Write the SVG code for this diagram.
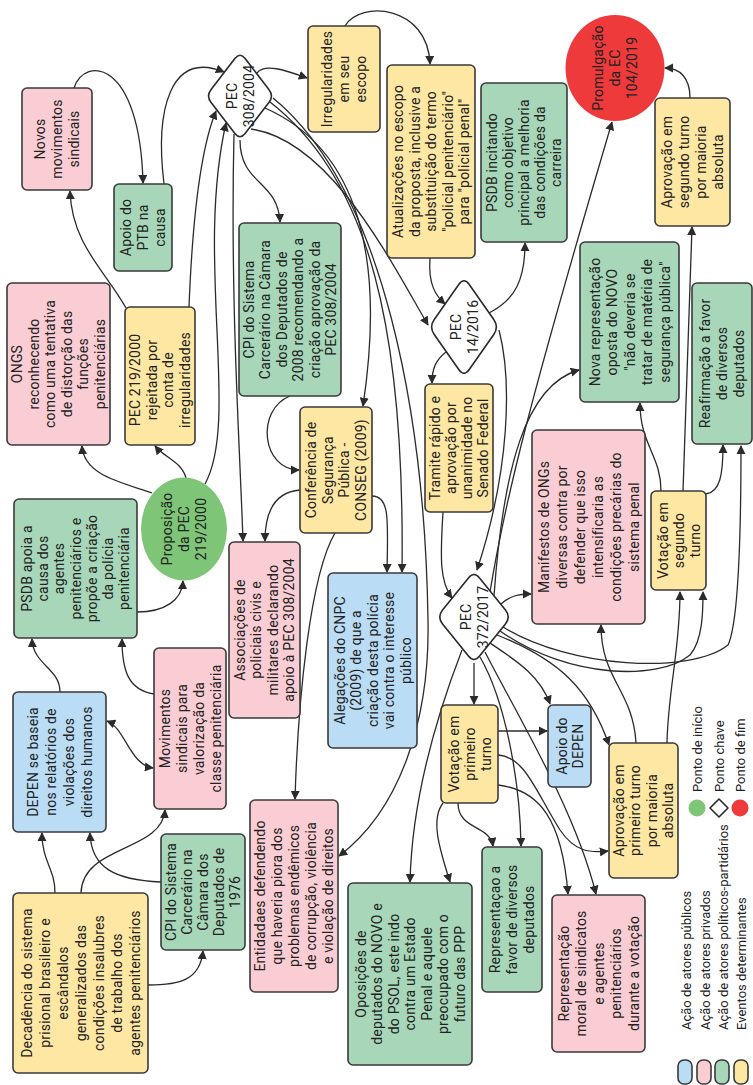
<svg xmlns="http://www.w3.org/2000/svg" width="753" height="1085" viewBox="0 0 753 1085">
<style>
.pk{fill:#f9cdd3;stroke:#3a3a3a;stroke-width:1.6}
.gr{fill:#a7d7b8;stroke:#3a3a3a;stroke-width:1.6}
.ye{fill:#fee7a3;stroke:#3a3a3a;stroke-width:1.6}
.bl{fill:#badcf4;stroke:#3a3a3a;stroke-width:1.6}
.dm{fill:#ffffff;stroke:#2a2a2a;stroke-width:1.6}
.t{font-family:Roboto,'Liberation Sans',sans-serif;font-size:14px;fill:#222;text-anchor:middle;letter-spacing:0.2px}
.lg{font-family:Roboto,'Liberation Sans',sans-serif;font-size:13px;fill:#222;text-anchor:start}
.e{fill:none;stroke:#2b2b2b;stroke-width:1.3;marker-end:url(#arr)}
</style>
<defs>
<marker id="arr" viewBox="0 0 10 10" refX="9" refY="5" markerWidth="7" markerHeight="7" orient="auto-start-reverse" markerUnits="strokeWidth">
<path d="M0,0 L10,5 L0,10 z" fill="#2b2b2b"/>
</marker>
</defs>
<rect width="753" height="1085" fill="#ffffff"/>

<g id="connectors">
<path class="e" d="M74 88 C85 55 140 60 143 183"/>
<path class="e" d="M164 184 C155 110 170 50 224 72"/>
<path class="e" d="M126 308 C105 270 72 245 70 191"/>
<path class="e" d="M189 307 C192 230 200 150 216 111"/>
<path class="e" d="M205 484 C240 420 195 260 226 123"/>
<path class="e" d="M234 134 C230 300 240 450 243 541"/>
<path class="e" d="M240 140 C240 185 278 180 280 222"/>
<path class="e" d="M257 73 C265 62 290 72 307 78"/>
<path class="e" d="M345 26 C360 0 428 5 430 64"/>
<path class="e" d="M430 258 C428 285 436 296 445 304"/>
<path class="e" d="M251 129 C330 140 390 260 428 325"/>
<path class="e" d="M265 108 C360 150 385 260 363 406"/>
<path class="e" d="M270 102 C370 180 405 330 402 572"/>
<path class="e" d="M273 98 C385 190 425 420 428 620 C430 720 400 810 339 856"/>
<path class="e" d="M489 313 C515 300 525 280 525 243"/>
<path class="e" d="M446 352 C436 360 432 368 432 383"/>
<path class="e" d="M499 330 C512 380 510 470 477 570"/>
<path class="e" d="M443 512 C440 560 440 582 452 598"/>
<path class="e" d="M290 396 C255 410 262 470 299 470"/>
<path class="e" d="M300 490 C275 492 265 512 265 541"/>
<path class="e" d="M372 496 C390 496 388 520 387 572"/>
<path class="e" d="M335 533 C310 575 298 700 295 799"/>
<path class="e" d="M186 478 C182 462 165 458 155 446"/>
<path class="e" d="M152 493 C120 482 84 475 82 446"/>
<path class="e" d="M137 612 C165 612 182 600 183 581"/>
<path class="e" d="M60 692 C60 668 33 665 32 639"/>
<path class="e" d="M154 694 C128 690 122 670 122 639"/>
<path class="e" d="M107 721 C125 728 130 765 153 768" marker-start="url(#arr)"/>
<path class="e" d="M55 893 C55 868 42 862 42 833"/>
<path class="e" d="M81 893 C82 845 162 852 165 810"/>
<path class="e" d="M161 882 C115 880 91 868 90 833"/>
<path class="e" d="M148 985 C180 985 200 980 203 951"/>
<path class="e" d="M490 592 C505 500 530 400 612 122"/>
<path class="e" d="M494 596 C503 470 525 385 579 370"/>
<path class="e" d="M501 604 C510 596 518 594 531 594"/>
<path class="e" d="M503 627 C570 668 690 675 728 645 C740 620 741 500 741 446"/>
<path class="e" d="M500 631 C570 680 660 680 690 655 C703 640 703 610 703 592"/>
<path class="e" d="M667 743 C668 690 680 650 680 592"/>
<path class="e" d="M636 743 C633 690 601 680 601 625"/>
<path class="e" d="M661 491 C661 455 640 445 640 403"/>
<path class="e" d="M683 491 L692 227"/>
<path class="e" d="M706 494 C720 492 723 475 723 445"/>
<path class="e" d="M690 98 C690 78 680 68 665 68"/>
<path class="e" d="M490 643 C515 660 540 675 550 704"/>
<path class="e" d="M497 635 C560 660 590 690 609 745"/>
<path class="e" d="M474 663 L474 704"/>
<path class="e" d="M498 731 L547 731"/>
<path class="e" d="M498 755 C525 757 535 790 560 830 C575 852 590 853 608 851"/>
<path class="e" d="M498 785 C540 790 562 820 568 894"/>
<path class="e" d="M458 803 C458 830 490 825 493 846"/>
<path class="e" d="M443 803 C430 820 440 850 450 882"/>
<path class="e" d="M480 657 C505 700 520 780 521 846"/>
<path class="e" d="M485 652 C520 720 575 810 596 894"/>
<path class="e" d="M462 650 C435 720 412 800 410 882"/>
</g>

<g id="n-novos"><rect class="pk" x="22" y="88" width="70" height="102" rx="5"/>
<text class="t" transform="translate(57,139) rotate(-90)"><tspan x="0" y="-12">Novos</tspan><tspan x="0" y="5">movimentos</tspan><tspan x="0" y="22">sindicais</tspan></text></g>

<g id="n-ptb"><rect class="gr" x="114" y="184" width="58" height="87" rx="5"/>
<text class="t" transform="translate(143,227.5) rotate(-90)"><tspan x="0" y="-12">Apoio do</tspan><tspan x="0" y="5">PTB na</tspan><tspan x="0" y="22">causa</tspan></text></g>

<g id="n-pec308"><path class="dm" d="M211.1 89.4 L234.9 58.6 Q240 52 245.1 58.6 L268.9 89.4 Q274 96 268.9 102.6 L245.1 133.4 Q240 140 234.9 133.4 L211.1 102.6 Q206 96 211.1 89.4 Z"/>
<text class="t" transform="translate(240,96) rotate(-90)"><tspan x="0" y="-3.5">PEC</tspan><tspan x="0" y="13.5">308/2004</tspan></text></g>

<g id="n-ongs"><rect class="pk" x="7" y="283" width="103" height="162" rx="5"/>
<text class="t" transform="translate(58.5,364) rotate(-90)"><tspan x="0" y="-36.25">ONGS</tspan><tspan x="0" y="-19.75">reconhecendo</tspan><tspan x="0" y="-3.25">como uma tentativa</tspan><tspan x="0" y="13.25">de distorção das</tspan><tspan x="0" y="29.75">funções</tspan><tspan x="0" y="46.25">penitenciárias</tspan></text></g>

<g id="n-pec219rej"><rect class="ye" x="125" y="307" width="70" height="138" rx="5"/>
<text class="t" transform="translate(160,380) rotate(-90)"><tspan x="0" y="-19.75">PEC 219/2000</tspan><tspan x="0" y="-3.25">rejeitada por</tspan><tspan x="0" y="13.25">conta de</tspan><tspan x="0" y="29.75">irregularidades</tspan></text></g>

<g id="n-cpi2008"><rect class="gr" x="239" y="223" width="102" height="173" rx="5"/>
<text class="t" transform="translate(290,309.5) rotate(-90)"><tspan x="0" y="-36.25">CPI do Sistema</tspan><tspan x="0" y="-19.75">Carcerário na Câmara</tspan><tspan x="0" y="-3.25">dos Deputados de</tspan><tspan x="0" y="13.25">2008 recomendando a</tspan><tspan x="0" y="29.75">criação aprovação da</tspan><tspan x="0" y="46.25">PEC 308/2004</tspan></text></g>

<g id="n-irreg"><rect class="ye" x="308" y="26" width="72" height="106" rx="5"/>
<text class="t" transform="translate(344,79) rotate(-90)"><tspan x="0" y="-12">Irregularidades</tspan><tspan x="0" y="5">em seu</tspan><tspan x="0" y="22">escopo</tspan></text></g>

<g id="n-atualiz"><rect class="ye" x="387" y="65" width="88" height="193" rx="5"/>
<text class="t" transform="translate(431,161.5) rotate(-90)"><tspan x="0" y="-28">Atualizações no escopo</tspan><tspan x="0" y="-11.5">da proposta, inclusive a</tspan><tspan x="0" y="5">substituição do termo</tspan><tspan x="0" y="21.5">&quot;policial penitenciário&quot;</tspan><tspan x="0" y="38">para &quot;policial penal&quot;</tspan></text></g>

<g id="n-psdbinc"><rect class="gr" x="481" y="83" width="86" height="159" rx="5"/>
<text class="t" transform="translate(524,162.5) rotate(-90)"><tspan x="0" y="-27">PSDB incitando</tspan><tspan x="0" y="-11">como objetivo</tspan><tspan x="0" y="5">principal a melhoria</tspan><tspan x="0" y="21">das condições da</tspan><tspan x="0" y="37">carreira</tspan></text></g>

<g id="n-promulg"><ellipse cx="615" cy="68" rx="49.5" ry="53" fill="#ee3a3a"/>
<text class="t" transform="translate(615,68) rotate(-90)"><tspan x="0" y="-12">Promulgação</tspan><tspan x="0" y="5">da EC</tspan><tspan x="0" y="22">104/2019</tspan></text></g>

<g id="n-aprov2"><rect class="ye" x="655" y="98" width="75" height="128" rx="5"/>
<text class="t" transform="translate(692.5,162) rotate(-90)"><tspan x="0" y="-20.5">Aprovação em</tspan><tspan x="0" y="-3.5">segundo turno</tspan><tspan x="0" y="13.5">por maioria</tspan><tspan x="0" y="30.5">absoluta</tspan></text></g>

<g id="n-pec14"><path class="dm" d="M434.25 319.5 L458.75 284.5 Q464 277 469.25 284.5 L493.75 319.5 Q499 327 493.75 334.5 L469.25 369.5 Q464 377 458.75 369.5 L434.25 334.5 Q429 327 434.25 319.5 Z"/>
<text class="t" transform="translate(464,327) rotate(-90)"><tspan x="0" y="-3.5">PEC</tspan><tspan x="0" y="13.5">14/2016</tspan></text></g>

<g id="n-nova"><rect class="gr" x="580" y="242" width="99" height="160" rx="5"/>
<text class="t" transform="translate(629.5,322) rotate(-90)"><tspan x="0" y="-30">Nova representação</tspan><tspan x="0" y="-12.5">oposta do NOVO</tspan><tspan x="0" y="5">&quot;não deveria se</tspan><tspan x="0" y="22.5">tratar de matéria de</tspan><tspan x="0" y="40">segurança pública&quot;</tspan></text></g>

<g id="n-reafirm"><rect class="gr" x="692" y="283" width="60" height="161" rx="5"/>
<text class="t" transform="translate(722,363.5) rotate(-90)"><tspan x="0" y="-12">Reafirmação a favor</tspan><tspan x="0" y="5">de diversos</tspan><tspan x="0" y="22">deputados</tspan></text></g>

<g id="n-tramite"><rect class="ye" x="425" y="384" width="68" height="128" rx="5"/>
<text class="t" transform="translate(459,448) rotate(-90)"><tspan x="0" y="-19">Tramite rápido e</tspan><tspan x="0" y="-3">aprovação por</tspan><tspan x="0" y="13">unanimidade no</tspan><tspan x="0" y="29">Senado Federal</tspan></text></g>

<g id="n-conseg"><rect class="ye" x="300" y="407" width="72" height="126" rx="5"/>
<text class="t" transform="translate(336,470) rotate(-90)"><tspan x="0" y="-19.75">Conferência de</tspan><tspan x="0" y="-3.25">Segurança</tspan><tspan x="0" y="13.25">Pública -</tspan><tspan x="0" y="29.75">CONSEG (2009)</tspan></text></g>

<g id="n-assoc"><rect class="pk" x="229" y="542" width="71" height="176" rx="5"/>
<text class="t" transform="translate(264.5,630) rotate(-90)"><tspan x="0" y="-19.75">Associações de</tspan><tspan x="0" y="-3.25">policiais civis e</tspan><tspan x="0" y="13.25">militares declarando</tspan><tspan x="0" y="29.75">apoio à PEC 308/2004</tspan></text></g>

<g id="n-cnpc"><rect class="bl" x="328" y="573" width="89" height="175" rx="5"/>
<text class="t" transform="translate(372.5,660.5) rotate(-90)"><tspan x="0" y="-28">Alegações do CNPC</tspan><tspan x="0" y="-11.5">(2009) de que a</tspan><tspan x="0" y="5">criação desta polícia</tspan><tspan x="0" y="21.5">vai contra o interesse</tspan><tspan x="0" y="38">público</tspan></text></g>

<g id="n-pec372"><path class="dm" d="M442.55 610.1 L468.45 577.9 Q474 571 479.55 577.9 L505.45 610.1 Q511 617 505.45 623.9 L479.55 656.1 Q474 663 468.45 656.1 L442.55 623.9 Q437 617 442.55 610.1 Z"/>
<text class="t" transform="translate(474,617) rotate(-90)"><tspan x="0" y="-3.5">PEC</tspan><tspan x="0" y="13.5">372/2017</tspan></text></g>

<g id="n-manif"><rect class="pk" x="532" y="430" width="113" height="194" rx="5"/>
<text class="t" transform="translate(588.5,527) rotate(-90)"><tspan x="0" y="-40">Manifestos de ONGs</tspan><tspan x="0" y="-22">diversas contra por</tspan><tspan x="0" y="-4">defender que isso</tspan><tspan x="0" y="14">intensificaria as</tspan><tspan x="0" y="32">condições precárias do</tspan><tspan x="0" y="50">sistema penal</tspan></text></g>

<g id="n-vot2"><rect class="ye" x="651" y="491" width="55" height="99" rx="5"/>
<text class="t" transform="translate(678.5,540.5) rotate(-90)"><tspan x="0" y="-11">Votação em</tspan><tspan x="0" y="5">segundo</tspan><tspan x="0" y="21">turno</tspan></text></g>

<g id="n-psdbapoia"><rect class="gr" x="14" y="499" width="123" height="139" rx="5"/>
<text class="t" transform="translate(75.5,568.5) rotate(-90)"><tspan x="0" y="-43.9">PSDB apoia a</tspan><tspan x="0" y="-27.6">causa dos</tspan><tspan x="0" y="-11.3">agentes</tspan><tspan x="0" y="5">penitenciários e</tspan><tspan x="0" y="21.3">propõe a criação</tspan><tspan x="0" y="37.6">da polícia</tspan><tspan x="0" y="53.9">penitenciária</tspan></text></g>

<g id="n-propos"><ellipse cx="184" cy="529" rx="43" ry="51.5" fill="#7ec577"/>
<text class="t" transform="translate(184,529) rotate(-90)"><tspan x="0" y="-12">Proposição</tspan><tspan x="0" y="5">da PEC</tspan><tspan x="0" y="22">219/2000</tspan></text></g>

<g id="n-movim"><rect class="pk" x="154" y="648" width="72" height="161" rx="5"/>
<text class="t" transform="translate(190,728.5) rotate(-90)"><tspan x="0" y="-20.5">Movimentos</tspan><tspan x="0" y="-3.5">sindicais para</tspan><tspan x="0" y="13.5">valorização da</tspan><tspan x="0" y="30.5">classe penitenciária</tspan></text></g>

<g id="n-depen"><rect class="bl" x="13" y="692" width="93" height="140" rx="5"/>
<text class="t" transform="translate(59.5,762) rotate(-90)"><tspan x="0" y="-22">DEPEN se baseia</tspan><tspan x="0" y="-4">nos relatórios de</tspan><tspan x="0" y="14">violações dos</tspan><tspan x="0" y="32">direitos humanos</tspan></text></g>

<g id="n-decad"><rect class="ye" x="13" y="893" width="135" height="180" rx="5"/>
<text class="t" transform="translate(80.5,983) rotate(-90)"><tspan x="0" y="-49">Decadência do sistema</tspan><tspan x="0" y="-31">prisional brasileiro e</tspan><tspan x="0" y="-13">escândalos</tspan><tspan x="0" y="5">generalizados das</tspan><tspan x="0" y="23">condições insalubres</tspan><tspan x="0" y="41">de trabalho dos</tspan><tspan x="0" y="59">agentes penitenciários</tspan></text></g>

<g id="n-cpi1976"><rect class="gr" x="161" y="834" width="84" height="116" rx="5"/>
<text class="t" transform="translate(203,892) rotate(-90)"><tspan x="0" y="-27">CPI do Sistema</tspan><tspan x="0" y="-11">Carcerário na</tspan><tspan x="0" y="5">Câmara dos</tspan><tspan x="0" y="21">Deputados de</tspan><tspan x="0" y="37">1976</tspan></text></g>

<g id="n-entid"><rect class="pk" x="250" y="800" width="88" height="192" rx="5"/>
<text class="t" transform="translate(294,896) rotate(-90)"><tspan x="0" y="-29">Entidadaes defendendo</tspan><tspan x="0" y="-12">que haveria piora dos</tspan><tspan x="0" y="5">problemas endêmicos</tspan><tspan x="0" y="22">de corrupção, violência</tspan><tspan x="0" y="39">e violação de direitos</tspan></text></g>

<g id="n-oposic"><rect class="gr" x="348" y="883" width="124" height="182" rx="5"/>
<text class="t" transform="translate(410,974) rotate(-90)"><tspan x="0" y="-44.5">Oposições de</tspan><tspan x="0" y="-28">deputados do NOVO e</tspan><tspan x="0" y="-11.5">do PSOL, este indo</tspan><tspan x="0" y="5">contra um Estado</tspan><tspan x="0" y="21.5">Penal e aquele</tspan><tspan x="0" y="38">preocupado com o</tspan><tspan x="0" y="54.5">futuro das PPP</tspan></text></g>

<g id="n-vot1"><rect class="ye" x="441" y="705" width="57" height="98" rx="5"/>
<text class="t" transform="translate(469.5,754) rotate(-90)"><tspan x="0" y="-11">Votação em</tspan><tspan x="0" y="5">primeiro</tspan><tspan x="0" y="21">turno</tspan></text></g>

<g id="n-apoiodepen"><rect class="bl" x="548" y="705" width="43" height="82" rx="5"/>
<text class="t" transform="translate(569.5,746) rotate(-90)"><tspan x="0" y="-3">Apoio do</tspan><tspan x="0" y="13">DEPEN</tspan></text></g>

<g id="n-aprov1"><rect class="ye" x="609" y="743" width="69" height="135" rx="5"/>
<text class="t" transform="translate(643.5,810.5) rotate(-90)"><tspan x="0" y="-19.75">Aprovação em</tspan><tspan x="0" y="-3.25">primeiro turno</tspan><tspan x="0" y="13.25">por maioria</tspan><tspan x="0" y="29.75">absoluta</tspan></text></g>

<g id="n-repfavor"><rect class="gr" x="482" y="847" width="60" height="145" rx="5"/>
<text class="t" transform="translate(512,919.5) rotate(-90)"><tspan x="0" y="-12">Representaçao a</tspan><tspan x="0" y="5">favor de diversos</tspan><tspan x="0" y="22">deputados</tspan></text></g>

<g id="n-repmoral"><rect class="pk" x="552" y="895" width="93" height="157" rx="5"/>
<text class="t" transform="translate(598.5,973.5) rotate(-90)"><tspan x="0" y="-30">Representação</tspan><tspan x="0" y="-12.5">moral de sindicatos</tspan><tspan x="0" y="5">e agentes</tspan><tspan x="0" y="22.5">penitenciários</tspan><tspan x="0" y="40">durante a votação</tspan></text></g>

<g id="legend">
<rect class="bl" x="678" y="1060" width="14" height="24" rx="6"/>
<rect class="pk" x="697" y="1060" width="14" height="24" rx="6"/>
<rect class="gr" x="715" y="1060" width="14" height="24" rx="6"/>
<rect class="ye" x="734" y="1060" width="14" height="24" rx="6"/>
<text class="lg" transform="translate(686,1030) rotate(-90)" y="4.5">Ação de atores públicos</text>
<text class="lg" transform="translate(705,1030) rotate(-90)" y="4.5">Ação de atores privados</text>
<text class="lg" transform="translate(723,1030) rotate(-90)" y="4.5">Ação de atores políticos-partidários</text>
<text class="lg" transform="translate(741,1030) rotate(-90)" y="4.5">Eventos determinantes</text>
<circle cx="697" cy="808" r="8.5" fill="#7ec577"/>
<path class="dm" d="M719 799 L728 808 L719 817 L710 808 Z" stroke-linejoin="round"/>
<circle cx="740" cy="808" r="8.5" fill="#ee3a3a"/>
<text class="lg" transform="translate(697,792) rotate(-90)" y="4.5">Ponto de início</text>
<text class="lg" transform="translate(719,792) rotate(-90)" y="4.5">Ponto chave</text>
<text class="lg" transform="translate(740,792) rotate(-90)" y="4.5">Ponto de fim</text>
</g>
</svg>
